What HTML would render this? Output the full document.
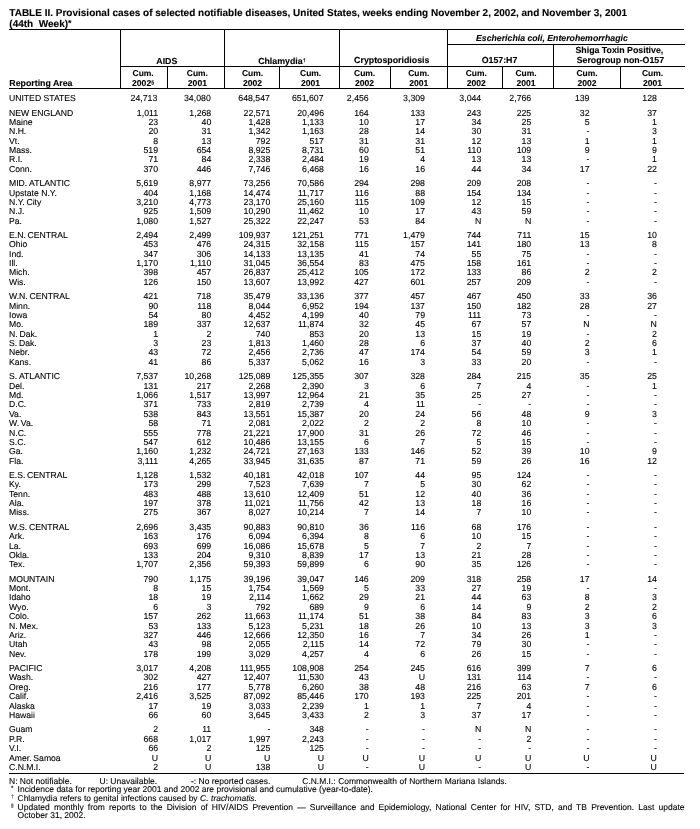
<!DOCTYPE html>
<html lang="en"><head><meta charset="utf-8"><title>TABLE II. Provisional cases of selected notifiable diseases</title>
<style>
html,body{margin:0;padding:0;background:#fff}
#p{position:relative;width:700px;height:829px;overflow:hidden;background:#fff;color:#000;font-family:"Liberation Sans",sans-serif;font-size:8.75px;-webkit-font-smoothing:antialiased;text-rendering:geometricPrecision;-webkit-text-stroke:0.1px #000}
.r{position:absolute;left:0;width:700px;height:10px;line-height:10px;white-space:nowrap}
.a{position:absolute;left:9.00px;word-spacing:0.1px;font-size:8.65px}
.c{position:absolute}
.ns{word-spacing:-0.6px}
.l{position:absolute}
.t{position:absolute;white-space:nowrap}
.b{font-weight:bold}
.i{font-style:italic}
.j{text-align:justify;text-align-last:justify;white-space:normal}
.sup{font-size:62%;position:relative;top:-0.42em;line-height:0}
.ast{font-size:88%;position:relative;top:-0.08em;line-height:0}
.fm{color:#777;font-weight:bold;-webkit-text-stroke:0.35px #777}
</style></head>
<body><div id="p">
<div class="l" style="left:9.30px;top:29.00px;width:675.20px;height:1.00px;background:#000"></div>
<div class="l" style="left:9.30px;top:87.50px;width:675.20px;height:1.00px;background:#000"></div>
<div class="l" style="left:9.30px;top:772.90px;width:675.20px;height:1.00px;background:#000"></div>
<div class="l" style="left:447.00px;top:43.75px;width:237.50px;height:1.00px;background:#000"></div>
<div class="l" style="left:120.50px;top:65.50px;width:564.00px;height:1.00px;background:#000"></div>
<div class="l" style="left:120.00px;top:29.50px;width:1.00px;height:58.50px;background:#000"></div>
<div class="l" style="left:224.00px;top:29.50px;width:1.00px;height:58.50px;background:#000"></div>
<div class="l" style="left:339.00px;top:29.50px;width:1.00px;height:58.50px;background:#000"></div>
<div class="l" style="left:446.50px;top:29.50px;width:1.00px;height:58.50px;background:#000"></div>
<div class="l" style="left:553.25px;top:44.25px;width:1.00px;height:43.75px;background:#000"></div>
<div class="l" style="left:167.00px;top:66.00px;width:1.00px;height:22.00px;background:#000"></div>
<div class="l" style="left:279.00px;top:66.00px;width:1.00px;height:22.00px;background:#000"></div>
<div class="l" style="left:390.00px;top:66.00px;width:1.00px;height:22.00px;background:#000"></div>
<div class="l" style="left:502.00px;top:66.00px;width:1.00px;height:22.00px;background:#000"></div>
<div class="l" style="left:620.00px;top:66.00px;width:1.00px;height:22.00px;background:#000"></div>
<div class="t b" style="left:9.30px;top:9.00px;font-size:10.00px;line-height:10.00px;">TABLE II. Provisional cases of selected notifiable diseases, United States, weeks ending November 2, 2002, and November 3, 2001</div>
<div class="t b" style="left:9.30px;top:20.00px;font-size:10.00px;line-height:10.00px;">(44th&nbsp; Week)<span class="ast">*</span></div>
<div class="t b" style="left:9.30px;top:78.00px;font-size:8.80px;line-height:10.00px;">Reporting Area</div>
<div class="t b i" style="left:476.40px;top:33.00px;font-size:8.80px;line-height:10.00px;;transform:scaleX(0.9920);transform-origin:0 0">Escherichia coli, Enterohemorrhagic</div>
<div class="t b" style="left:106.80px;width:120px;text-align:center;top:56.00px;font-size:8.80px;line-height:10.00px">AIDS</div>
<div class="t b" style="left:221.90px;width:120px;text-align:center;top:56.00px;font-size:8.80px;line-height:10.00px">Chlamydia<span class="sup">†</span></div>
<div class="t b" style="left:331.75px;width:120px;text-align:center;top:55.00px;font-size:8.80px;line-height:10.00px">Cryptosporidiosis</div>
<div class="t b" style="left:439.50px;width:120px;text-align:center;top:55.00px;font-size:8.80px;line-height:10.00px">O157:H7</div>
<div class="t b" style="left:559.40px;width:120px;text-align:center;top:45.00px;font-size:8.80px;line-height:10.00px">Shiga Toxin Positive,</div>
<div class="t b" style="left:560.40px;width:120px;text-align:center;top:55.00px;font-size:8.80px;line-height:10.00px">Serogroup non-O157</div>
<div class="t b" style="left:113.10px;width:60px;text-align:center;top:68.00px;font-size:8.45px;line-height:10.00px">Cum.</div>
<div class="t b" style="left:113.10px;width:60px;text-align:center;top:78.00px;font-size:8.60px;line-height:10.00px">2002<span class="sup">§</span></div>
<div class="t b" style="left:167.40px;width:60px;text-align:center;top:68.00px;font-size:8.45px;line-height:10.00px">Cum.</div>
<div class="t b" style="left:167.40px;width:60px;text-align:center;top:78.00px;font-size:8.60px;line-height:10.00px">2001</div>
<div class="t b" style="left:222.50px;width:60px;text-align:center;top:68.00px;font-size:8.45px;line-height:10.00px">Cum.</div>
<div class="t b" style="left:222.50px;width:60px;text-align:center;top:78.00px;font-size:8.60px;line-height:10.00px">2002</div>
<div class="t b" style="left:280.60px;width:60px;text-align:center;top:68.00px;font-size:8.45px;line-height:10.00px">Cum.</div>
<div class="t b" style="left:280.60px;width:60px;text-align:center;top:78.00px;font-size:8.60px;line-height:10.00px">2001</div>
<div class="t b" style="left:334.60px;width:60px;text-align:center;top:68.00px;font-size:8.45px;line-height:10.00px">Cum.</div>
<div class="t b" style="left:334.60px;width:60px;text-align:center;top:78.00px;font-size:8.60px;line-height:10.00px">2002</div>
<div class="t b" style="left:388.75px;width:60px;text-align:center;top:68.00px;font-size:8.45px;line-height:10.00px">Cum.</div>
<div class="t b" style="left:388.75px;width:60px;text-align:center;top:78.00px;font-size:8.60px;line-height:10.00px">2001</div>
<div class="t b" style="left:446.25px;width:60px;text-align:center;top:68.00px;font-size:8.45px;line-height:10.00px">Cum.</div>
<div class="t b" style="left:446.25px;width:60px;text-align:center;top:78.00px;font-size:8.60px;line-height:10.00px">2002</div>
<div class="t b" style="left:496.00px;width:60px;text-align:center;top:68.00px;font-size:8.45px;line-height:10.00px">Cum.</div>
<div class="t b" style="left:496.00px;width:60px;text-align:center;top:78.00px;font-size:8.60px;line-height:10.00px">2001</div>
<div class="t b" style="left:557.00px;width:60px;text-align:center;top:68.00px;font-size:8.45px;line-height:10.00px">Cum.</div>
<div class="t b" style="left:557.00px;width:60px;text-align:center;top:78.00px;font-size:8.60px;line-height:10.00px">2002</div>
<div class="t b" style="left:622.50px;width:60px;text-align:center;top:68.00px;font-size:8.45px;line-height:10.00px">Cum.</div>
<div class="t b" style="left:622.50px;width:60px;text-align:center;top:78.00px;font-size:8.60px;line-height:10.00px">2001</div>
<div class="t " style="left:9.00px;top:776.00px;font-size:8.50px;line-height:10.00px;">N: Not notifiable.</div>
<div class="t " style="left:99.50px;top:776.00px;font-size:8.50px;line-height:10.00px;">U: Unavailable.</div>
<div class="t " style="left:191.00px;top:776.00px;font-size:8.50px;line-height:10.00px;">-: No reported cases.</div>
<div class="t j" style="left:302.30px;top:776.00px;font-size:8.45px;line-height:10.00px;width:204.6px">C.N.M.I.: Commonwealth of Northern Mariana Islands.</div>
<div class="t " style="left:11.00px;top:784.73px;font-size:6.20px;line-height:7.44px;">*</div>
<div class="t j" style="left:17.60px;top:784.00px;font-size:8.50px;line-height:10.00px;width:355.4px">Incidence data for reporting year 2001 and 2002 are provisional and cumulative (year-to-date).</div>
<div class="t fm" style="left:11.30px;top:794.25px;font-size:4.60px;line-height:5.52px;">†</div>
<div class="t j" style="left:17.60px;top:793.00px;font-size:8.42px;line-height:10.00px;width:239.3px">Chlamydia refers to genital infections caused by <i>C. trachomatis.</i></div>
<div class="t fm" style="left:11.10px;top:803.25px;font-size:4.60px;line-height:5.52px;">§</div>
<div class="t j" style="left:17.60px;top:802.00px;font-size:8.50px;line-height:10.00px;width:666.90px">Updated monthly from reports to the Division of HIV/AIDS Prevention — Surveillance and Epidemiology, National Center for HIV, STD, and TB Prevention. Last update</div>
<div class="t " style="left:17.60px;top:810.00px;font-size:8.50px;line-height:10.00px;">October 31, 2002.</div>
<div class="r" style="top:93.00px"><span class="a">UNITED STATES</span><span class="c" style="right:542.70px">24,713</span><span class="c" style="right:489.25px">34,080</span><span class="c" style="right:430.10px">648,547</span><span class="c" style="right:376.40px">651,607</span><span class="c" style="right:331.25px">2,456</span><span class="c" style="right:275.00px">3,309</span><span class="c" style="right:218.75px">3,044</span><span class="c" style="right:168.75px">2,766</span><span class="c" style="right:110.50px">139</span><span class="c" style="right:43.10px">128</span></div>
<div class="r" style="top:108.00px"><span class="a">NEW ENGLAND</span><span class="c" style="right:541.90px">1,011</span><span class="c" style="right:488.75px">1,268</span><span class="c" style="right:429.70px">22,571</span><span class="c" style="right:376.00px">20,496</span><span class="c" style="right:331.25px">164</span><span class="c" style="right:275.00px">133</span><span class="c" style="right:218.75px">243</span><span class="c" style="right:168.75px">225</span><span class="c" style="right:110.50px">32</span><span class="c" style="right:43.10px">37</span></div>
<div class="r" style="top:117.00px"><span class="a">Maine</span><span class="c" style="right:541.90px">23</span><span class="c" style="right:488.75px">40</span><span class="c" style="right:429.70px">1,428</span><span class="c" style="right:376.00px">1,133</span><span class="c" style="right:331.25px">10</span><span class="c" style="right:275.00px">17</span><span class="c" style="right:218.75px">34</span><span class="c" style="right:168.75px">25</span><span class="c" style="right:110.50px">5</span><span class="c" style="right:43.10px">1</span></div>
<div class="r" style="top:126.00px"><span class="a">N.H.</span><span class="c" style="right:541.90px">20</span><span class="c" style="right:488.75px">31</span><span class="c" style="right:429.70px">1,342</span><span class="c" style="right:376.00px">1,163</span><span class="c" style="right:331.25px">28</span><span class="c" style="right:275.00px">14</span><span class="c" style="right:218.75px">30</span><span class="c" style="right:168.75px">31</span><span class="c" style="right:110.50px">-</span><span class="c" style="right:43.10px">3</span></div>
<div class="r" style="top:136.00px"><span class="a">Vt.</span><span class="c" style="right:541.90px">8</span><span class="c" style="right:488.75px">13</span><span class="c" style="right:429.70px">792</span><span class="c" style="right:376.00px">517</span><span class="c" style="right:331.25px">31</span><span class="c" style="right:275.00px">31</span><span class="c" style="right:218.75px">12</span><span class="c" style="right:168.75px">13</span><span class="c" style="right:110.50px">1</span><span class="c" style="right:43.10px">1</span></div>
<div class="r" style="top:145.00px"><span class="a">Mass.</span><span class="c" style="right:541.90px">519</span><span class="c" style="right:488.75px">654</span><span class="c" style="right:429.70px">8,925</span><span class="c" style="right:376.00px">8,731</span><span class="c" style="right:331.25px">60</span><span class="c" style="right:275.00px">51</span><span class="c" style="right:218.75px">110</span><span class="c" style="right:168.75px">109</span><span class="c" style="right:110.50px">9</span><span class="c" style="right:43.10px">9</span></div>
<div class="r" style="top:154.00px"><span class="a">R.I.</span><span class="c" style="right:541.90px">71</span><span class="c" style="right:488.75px">84</span><span class="c" style="right:429.70px">2,338</span><span class="c" style="right:376.00px">2,484</span><span class="c" style="right:331.25px">19</span><span class="c" style="right:275.00px">4</span><span class="c" style="right:218.75px">13</span><span class="c" style="right:168.75px">13</span><span class="c" style="right:110.50px">-</span><span class="c" style="right:43.10px">1</span></div>
<div class="r" style="top:164.00px"><span class="a">Conn.</span><span class="c" style="right:541.90px">370</span><span class="c" style="right:488.75px">446</span><span class="c" style="right:429.70px">7,746</span><span class="c" style="right:376.00px">6,468</span><span class="c" style="right:331.25px">16</span><span class="c" style="right:275.00px">16</span><span class="c" style="right:218.75px">44</span><span class="c" style="right:168.75px">34</span><span class="c" style="right:110.50px">17</span><span class="c" style="right:43.10px">22</span></div>
<div class="r" style="top:178.00px"><span class="a">MID.<span class="ns"> </span>ATLANTIC</span><span class="c" style="right:541.90px">5,619</span><span class="c" style="right:488.75px">8,977</span><span class="c" style="right:429.70px">73,256</span><span class="c" style="right:376.00px">70,586</span><span class="c" style="right:331.25px">294</span><span class="c" style="right:275.00px">298</span><span class="c" style="right:218.75px">209</span><span class="c" style="right:168.75px">208</span><span class="c" style="right:110.50px">-</span><span class="c" style="right:43.10px">-</span></div>
<div class="r" style="top:188.00px"><span class="a">Upstate N.Y.</span><span class="c" style="right:541.90px">404</span><span class="c" style="right:488.75px">1,168</span><span class="c" style="right:429.70px">14,474</span><span class="c" style="right:376.00px">11,717</span><span class="c" style="right:331.25px">116</span><span class="c" style="right:275.00px">88</span><span class="c" style="right:218.75px">154</span><span class="c" style="right:168.75px">134</span><span class="c" style="right:110.50px">-</span><span class="c" style="right:43.10px">-</span></div>
<div class="r" style="top:197.00px"><span class="a">N.Y.<span class="ns"> </span>City</span><span class="c" style="right:541.90px">3,210</span><span class="c" style="right:488.75px">4,773</span><span class="c" style="right:429.70px">23,170</span><span class="c" style="right:376.00px">25,160</span><span class="c" style="right:331.25px">115</span><span class="c" style="right:275.00px">109</span><span class="c" style="right:218.75px">12</span><span class="c" style="right:168.75px">15</span><span class="c" style="right:110.50px">-</span><span class="c" style="right:43.10px">-</span></div>
<div class="r" style="top:206.00px"><span class="a">N.J.</span><span class="c" style="right:541.90px">925</span><span class="c" style="right:488.75px">1,509</span><span class="c" style="right:429.70px">10,290</span><span class="c" style="right:376.00px">11,462</span><span class="c" style="right:331.25px">10</span><span class="c" style="right:275.00px">17</span><span class="c" style="right:218.75px">43</span><span class="c" style="right:168.75px">59</span><span class="c" style="right:110.50px">-</span><span class="c" style="right:43.10px">-</span></div>
<div class="r" style="top:216.00px"><span class="a">Pa.</span><span class="c" style="right:541.90px">1,080</span><span class="c" style="right:488.75px">1,527</span><span class="c" style="right:429.70px">25,322</span><span class="c" style="right:376.00px">22,247</span><span class="c" style="right:331.25px">53</span><span class="c" style="right:275.00px">84</span><span class="c" style="right:218.75px">N</span><span class="c" style="right:168.75px">N</span><span class="c" style="right:110.50px">-</span><span class="c" style="right:43.10px">-</span></div>
<div class="r" style="top:230.00px"><span class="a">E.N.<span class="ns"> </span>CENTRAL</span><span class="c" style="right:541.90px">2,494</span><span class="c" style="right:488.75px">2,499</span><span class="c" style="right:429.70px">109,937</span><span class="c" style="right:376.00px">121,251</span><span class="c" style="right:331.25px">771</span><span class="c" style="right:275.00px">1,479</span><span class="c" style="right:218.75px">744</span><span class="c" style="right:168.75px">711</span><span class="c" style="right:110.50px">15</span><span class="c" style="right:43.10px">10</span></div>
<div class="r" style="top:239.00px"><span class="a">Ohio</span><span class="c" style="right:541.90px">453</span><span class="c" style="right:488.75px">476</span><span class="c" style="right:429.70px">24,315</span><span class="c" style="right:376.00px">32,158</span><span class="c" style="right:331.25px">115</span><span class="c" style="right:275.00px">157</span><span class="c" style="right:218.75px">141</span><span class="c" style="right:168.75px">180</span><span class="c" style="right:110.50px">13</span><span class="c" style="right:43.10px">8</span></div>
<div class="r" style="top:249.00px"><span class="a">Ind.</span><span class="c" style="right:541.90px">347</span><span class="c" style="right:488.75px">306</span><span class="c" style="right:429.70px">14,133</span><span class="c" style="right:376.00px">13,135</span><span class="c" style="right:331.25px">41</span><span class="c" style="right:275.00px">74</span><span class="c" style="right:218.75px">55</span><span class="c" style="right:168.75px">75</span><span class="c" style="right:110.50px">-</span><span class="c" style="right:43.10px">-</span></div>
<div class="r" style="top:258.00px"><span class="a">Ill.</span><span class="c" style="right:541.90px">1,170</span><span class="c" style="right:488.75px">1,110</span><span class="c" style="right:429.70px">31,045</span><span class="c" style="right:376.00px">36,554</span><span class="c" style="right:331.25px">83</span><span class="c" style="right:275.00px">475</span><span class="c" style="right:218.75px">158</span><span class="c" style="right:168.75px">161</span><span class="c" style="right:110.50px">-</span><span class="c" style="right:43.10px">-</span></div>
<div class="r" style="top:267.00px"><span class="a">Mich.</span><span class="c" style="right:541.90px">398</span><span class="c" style="right:488.75px">457</span><span class="c" style="right:429.70px">26,837</span><span class="c" style="right:376.00px">25,412</span><span class="c" style="right:331.25px">105</span><span class="c" style="right:275.00px">172</span><span class="c" style="right:218.75px">133</span><span class="c" style="right:168.75px">86</span><span class="c" style="right:110.50px">2</span><span class="c" style="right:43.10px">2</span></div>
<div class="r" style="top:277.00px"><span class="a">Wis.</span><span class="c" style="right:541.90px">126</span><span class="c" style="right:488.75px">150</span><span class="c" style="right:429.70px">13,607</span><span class="c" style="right:376.00px">13,992</span><span class="c" style="right:331.25px">427</span><span class="c" style="right:275.00px">601</span><span class="c" style="right:218.75px">257</span><span class="c" style="right:168.75px">209</span><span class="c" style="right:110.50px">-</span><span class="c" style="right:43.10px">-</span></div>
<div class="r" style="top:291.00px"><span class="a">W.N.<span class="ns"> </span>CENTRAL</span><span class="c" style="right:541.90px">421</span><span class="c" style="right:488.75px">718</span><span class="c" style="right:429.70px">35,479</span><span class="c" style="right:376.00px">33,136</span><span class="c" style="right:331.25px">377</span><span class="c" style="right:275.00px">457</span><span class="c" style="right:218.75px">467</span><span class="c" style="right:168.75px">450</span><span class="c" style="right:110.50px">33</span><span class="c" style="right:43.10px">36</span></div>
<div class="r" style="top:301.00px"><span class="a">Minn.</span><span class="c" style="right:541.90px">90</span><span class="c" style="right:488.75px">118</span><span class="c" style="right:429.70px">8,044</span><span class="c" style="right:376.00px">6,952</span><span class="c" style="right:331.25px">194</span><span class="c" style="right:275.00px">137</span><span class="c" style="right:218.75px">150</span><span class="c" style="right:168.75px">182</span><span class="c" style="right:110.50px">28</span><span class="c" style="right:43.10px">27</span></div>
<div class="r" style="top:310.00px"><span class="a">Iowa</span><span class="c" style="right:541.90px">54</span><span class="c" style="right:488.75px">80</span><span class="c" style="right:429.70px">4,452</span><span class="c" style="right:376.00px">4,199</span><span class="c" style="right:331.25px">40</span><span class="c" style="right:275.00px">79</span><span class="c" style="right:218.75px">111</span><span class="c" style="right:168.75px">73</span><span class="c" style="right:110.50px">-</span><span class="c" style="right:43.10px">-</span></div>
<div class="r" style="top:319.00px"><span class="a">Mo.</span><span class="c" style="right:541.90px">189</span><span class="c" style="right:488.75px">337</span><span class="c" style="right:429.70px">12,637</span><span class="c" style="right:376.00px">11,874</span><span class="c" style="right:331.25px">32</span><span class="c" style="right:275.00px">45</span><span class="c" style="right:218.75px">67</span><span class="c" style="right:168.75px">57</span><span class="c" style="right:110.50px">N</span><span class="c" style="right:43.10px">N</span></div>
<div class="r" style="top:329.00px"><span class="a">N.<span class="ns"> </span>Dak.</span><span class="c" style="right:541.90px">1</span><span class="c" style="right:488.75px">2</span><span class="c" style="right:429.70px">740</span><span class="c" style="right:376.00px">853</span><span class="c" style="right:331.25px">20</span><span class="c" style="right:275.00px">13</span><span class="c" style="right:218.75px">15</span><span class="c" style="right:168.75px">19</span><span class="c" style="right:110.50px">-</span><span class="c" style="right:43.10px">2</span></div>
<div class="r" style="top:338.00px"><span class="a">S.<span class="ns"> </span>Dak.</span><span class="c" style="right:541.90px">3</span><span class="c" style="right:488.75px">23</span><span class="c" style="right:429.70px">1,813</span><span class="c" style="right:376.00px">1,460</span><span class="c" style="right:331.25px">28</span><span class="c" style="right:275.00px">6</span><span class="c" style="right:218.75px">37</span><span class="c" style="right:168.75px">40</span><span class="c" style="right:110.50px">2</span><span class="c" style="right:43.10px">6</span></div>
<div class="r" style="top:347.00px"><span class="a">Nebr.</span><span class="c" style="right:541.90px">43</span><span class="c" style="right:488.75px">72</span><span class="c" style="right:429.70px">2,456</span><span class="c" style="right:376.00px">2,736</span><span class="c" style="right:331.25px">47</span><span class="c" style="right:275.00px">174</span><span class="c" style="right:218.75px">54</span><span class="c" style="right:168.75px">59</span><span class="c" style="right:110.50px">3</span><span class="c" style="right:43.10px">1</span></div>
<div class="r" style="top:357.00px"><span class="a">Kans.</span><span class="c" style="right:541.90px">41</span><span class="c" style="right:488.75px">86</span><span class="c" style="right:429.70px">5,337</span><span class="c" style="right:376.00px">5,062</span><span class="c" style="right:331.25px">16</span><span class="c" style="right:275.00px">3</span><span class="c" style="right:218.75px">33</span><span class="c" style="right:168.75px">20</span><span class="c" style="right:110.50px">-</span><span class="c" style="right:43.10px">-</span></div>
<div class="r" style="top:371.00px"><span class="a">S.<span class="ns"> </span>ATLANTIC</span><span class="c" style="right:541.90px">7,537</span><span class="c" style="right:488.75px">10,268</span><span class="c" style="right:429.70px">125,089</span><span class="c" style="right:376.00px">125,355</span><span class="c" style="right:331.25px">307</span><span class="c" style="right:275.00px">328</span><span class="c" style="right:218.75px">284</span><span class="c" style="right:168.75px">215</span><span class="c" style="right:110.50px">35</span><span class="c" style="right:43.10px">25</span></div>
<div class="r" style="top:381.00px"><span class="a">Del.</span><span class="c" style="right:541.90px">131</span><span class="c" style="right:488.75px">217</span><span class="c" style="right:429.70px">2,268</span><span class="c" style="right:376.00px">2,390</span><span class="c" style="right:331.25px">3</span><span class="c" style="right:275.00px">6</span><span class="c" style="right:218.75px">7</span><span class="c" style="right:168.75px">4</span><span class="c" style="right:110.50px">-</span><span class="c" style="right:43.10px">1</span></div>
<div class="r" style="top:390.00px"><span class="a">Md.</span><span class="c" style="right:541.90px">1,066</span><span class="c" style="right:488.75px">1,517</span><span class="c" style="right:429.70px">13,997</span><span class="c" style="right:376.00px">12,964</span><span class="c" style="right:331.25px">21</span><span class="c" style="right:275.00px">35</span><span class="c" style="right:218.75px">25</span><span class="c" style="right:168.75px">27</span><span class="c" style="right:110.50px">-</span><span class="c" style="right:43.10px">-</span></div>
<div class="r" style="top:399.00px"><span class="a">D.C.</span><span class="c" style="right:541.90px">371</span><span class="c" style="right:488.75px">733</span><span class="c" style="right:429.70px">2,819</span><span class="c" style="right:376.00px">2,739</span><span class="c" style="right:331.25px">4</span><span class="c" style="right:275.00px">11</span><span class="c" style="right:218.75px">-</span><span class="c" style="right:168.75px">-</span><span class="c" style="right:110.50px">-</span><span class="c" style="right:43.10px">-</span></div>
<div class="r" style="top:409.00px"><span class="a">Va.</span><span class="c" style="right:541.90px">538</span><span class="c" style="right:488.75px">843</span><span class="c" style="right:429.70px">13,551</span><span class="c" style="right:376.00px">15,387</span><span class="c" style="right:331.25px">20</span><span class="c" style="right:275.00px">24</span><span class="c" style="right:218.75px">56</span><span class="c" style="right:168.75px">48</span><span class="c" style="right:110.50px">9</span><span class="c" style="right:43.10px">3</span></div>
<div class="r" style="top:418.00px"><span class="a">W.<span class="ns"> </span>Va.</span><span class="c" style="right:541.90px">58</span><span class="c" style="right:488.75px">71</span><span class="c" style="right:429.70px">2,081</span><span class="c" style="right:376.00px">2,022</span><span class="c" style="right:331.25px">2</span><span class="c" style="right:275.00px">2</span><span class="c" style="right:218.75px">8</span><span class="c" style="right:168.75px">10</span><span class="c" style="right:110.50px">-</span><span class="c" style="right:43.10px">-</span></div>
<div class="r" style="top:428.00px"><span class="a">N.C.</span><span class="c" style="right:541.90px">555</span><span class="c" style="right:488.75px">778</span><span class="c" style="right:429.70px">21,221</span><span class="c" style="right:376.00px">17,900</span><span class="c" style="right:331.25px">31</span><span class="c" style="right:275.00px">26</span><span class="c" style="right:218.75px">72</span><span class="c" style="right:168.75px">46</span><span class="c" style="right:110.50px">-</span><span class="c" style="right:43.10px">-</span></div>
<div class="r" style="top:437.00px"><span class="a">S.C.</span><span class="c" style="right:541.90px">547</span><span class="c" style="right:488.75px">612</span><span class="c" style="right:429.70px">10,486</span><span class="c" style="right:376.00px">13,155</span><span class="c" style="right:331.25px">6</span><span class="c" style="right:275.00px">7</span><span class="c" style="right:218.75px">5</span><span class="c" style="right:168.75px">15</span><span class="c" style="right:110.50px">-</span><span class="c" style="right:43.10px">-</span></div>
<div class="r" style="top:446.00px"><span class="a">Ga.</span><span class="c" style="right:541.90px">1,160</span><span class="c" style="right:488.75px">1,232</span><span class="c" style="right:429.70px">24,721</span><span class="c" style="right:376.00px">27,163</span><span class="c" style="right:331.25px">133</span><span class="c" style="right:275.00px">146</span><span class="c" style="right:218.75px">52</span><span class="c" style="right:168.75px">39</span><span class="c" style="right:110.50px">10</span><span class="c" style="right:43.10px">9</span></div>
<div class="r" style="top:456.00px"><span class="a">Fla.</span><span class="c" style="right:541.90px">3,111</span><span class="c" style="right:488.75px">4,265</span><span class="c" style="right:429.70px">33,945</span><span class="c" style="right:376.00px">31,635</span><span class="c" style="right:331.25px">87</span><span class="c" style="right:275.00px">71</span><span class="c" style="right:218.75px">59</span><span class="c" style="right:168.75px">26</span><span class="c" style="right:110.50px">16</span><span class="c" style="right:43.10px">12</span></div>
<div class="r" style="top:470.00px"><span class="a">E.S.<span class="ns"> </span>CENTRAL</span><span class="c" style="right:541.90px">1,128</span><span class="c" style="right:488.75px">1,532</span><span class="c" style="right:429.70px">40,181</span><span class="c" style="right:376.00px">42,018</span><span class="c" style="right:331.25px">107</span><span class="c" style="right:275.00px">44</span><span class="c" style="right:218.75px">95</span><span class="c" style="right:168.75px">124</span><span class="c" style="right:110.50px">-</span><span class="c" style="right:43.10px">-</span></div>
<div class="r" style="top:479.00px"><span class="a">Ky.</span><span class="c" style="right:541.90px">173</span><span class="c" style="right:488.75px">299</span><span class="c" style="right:429.70px">7,523</span><span class="c" style="right:376.00px">7,639</span><span class="c" style="right:331.25px">7</span><span class="c" style="right:275.00px">5</span><span class="c" style="right:218.75px">30</span><span class="c" style="right:168.75px">62</span><span class="c" style="right:110.50px">-</span><span class="c" style="right:43.10px">-</span></div>
<div class="r" style="top:489.00px"><span class="a">Tenn.</span><span class="c" style="right:541.90px">483</span><span class="c" style="right:488.75px">488</span><span class="c" style="right:429.70px">13,610</span><span class="c" style="right:376.00px">12,409</span><span class="c" style="right:331.25px">51</span><span class="c" style="right:275.00px">12</span><span class="c" style="right:218.75px">40</span><span class="c" style="right:168.75px">36</span><span class="c" style="right:110.50px">-</span><span class="c" style="right:43.10px">-</span></div>
<div class="r" style="top:498.00px"><span class="a">Ala.</span><span class="c" style="right:541.90px">197</span><span class="c" style="right:488.75px">378</span><span class="c" style="right:429.70px">11,021</span><span class="c" style="right:376.00px">11,756</span><span class="c" style="right:331.25px">42</span><span class="c" style="right:275.00px">13</span><span class="c" style="right:218.75px">18</span><span class="c" style="right:168.75px">16</span><span class="c" style="right:110.50px">-</span><span class="c" style="right:43.10px">-</span></div>
<div class="r" style="top:507.00px"><span class="a">Miss.</span><span class="c" style="right:541.90px">275</span><span class="c" style="right:488.75px">367</span><span class="c" style="right:429.70px">8,027</span><span class="c" style="right:376.00px">10,214</span><span class="c" style="right:331.25px">7</span><span class="c" style="right:275.00px">14</span><span class="c" style="right:218.75px">7</span><span class="c" style="right:168.75px">10</span><span class="c" style="right:110.50px">-</span><span class="c" style="right:43.10px">-</span></div>
<div class="r" style="top:522.00px"><span class="a">W.S.<span class="ns"> </span>CENTRAL</span><span class="c" style="right:541.90px">2,696</span><span class="c" style="right:488.75px">3,435</span><span class="c" style="right:429.70px">90,883</span><span class="c" style="right:376.00px">90,810</span><span class="c" style="right:331.25px">36</span><span class="c" style="right:275.00px">116</span><span class="c" style="right:218.75px">68</span><span class="c" style="right:168.75px">176</span><span class="c" style="right:110.50px">-</span><span class="c" style="right:43.10px">-</span></div>
<div class="r" style="top:531.00px"><span class="a">Ark.</span><span class="c" style="right:541.90px">163</span><span class="c" style="right:488.75px">176</span><span class="c" style="right:429.70px">6,094</span><span class="c" style="right:376.00px">6,394</span><span class="c" style="right:331.25px">8</span><span class="c" style="right:275.00px">6</span><span class="c" style="right:218.75px">10</span><span class="c" style="right:168.75px">15</span><span class="c" style="right:110.50px">-</span><span class="c" style="right:43.10px">-</span></div>
<div class="r" style="top:541.00px"><span class="a">La.</span><span class="c" style="right:541.90px">693</span><span class="c" style="right:488.75px">699</span><span class="c" style="right:429.70px">16,086</span><span class="c" style="right:376.00px">15,678</span><span class="c" style="right:331.25px">5</span><span class="c" style="right:275.00px">7</span><span class="c" style="right:218.75px">2</span><span class="c" style="right:168.75px">7</span><span class="c" style="right:110.50px">-</span><span class="c" style="right:43.10px">-</span></div>
<div class="r" style="top:550.00px"><span class="a">Okla.</span><span class="c" style="right:541.90px">133</span><span class="c" style="right:488.75px">204</span><span class="c" style="right:429.70px">9,310</span><span class="c" style="right:376.00px">8,839</span><span class="c" style="right:331.25px">17</span><span class="c" style="right:275.00px">13</span><span class="c" style="right:218.75px">21</span><span class="c" style="right:168.75px">28</span><span class="c" style="right:110.50px">-</span><span class="c" style="right:43.10px">-</span></div>
<div class="r" style="top:559.00px"><span class="a">Tex.</span><span class="c" style="right:541.90px">1,707</span><span class="c" style="right:488.75px">2,356</span><span class="c" style="right:429.70px">59,393</span><span class="c" style="right:376.00px">59,899</span><span class="c" style="right:331.25px">6</span><span class="c" style="right:275.00px">90</span><span class="c" style="right:218.75px">35</span><span class="c" style="right:168.75px">126</span><span class="c" style="right:110.50px">-</span><span class="c" style="right:43.10px">-</span></div>
<div class="r" style="top:574.00px"><span class="a">MOUNTAIN</span><span class="c" style="right:541.90px">790</span><span class="c" style="right:488.75px">1,175</span><span class="c" style="right:429.70px">39,196</span><span class="c" style="right:376.00px">39,047</span><span class="c" style="right:331.25px">146</span><span class="c" style="right:275.00px">209</span><span class="c" style="right:218.75px">318</span><span class="c" style="right:168.75px">258</span><span class="c" style="right:110.50px">17</span><span class="c" style="right:43.10px">14</span></div>
<div class="r" style="top:583.00px"><span class="a">Mont.</span><span class="c" style="right:541.90px">8</span><span class="c" style="right:488.75px">15</span><span class="c" style="right:429.70px">1,754</span><span class="c" style="right:376.00px">1,569</span><span class="c" style="right:331.25px">5</span><span class="c" style="right:275.00px">33</span><span class="c" style="right:218.75px">27</span><span class="c" style="right:168.75px">19</span><span class="c" style="right:110.50px">-</span><span class="c" style="right:43.10px">-</span></div>
<div class="r" style="top:592.00px"><span class="a">Idaho</span><span class="c" style="right:541.90px">18</span><span class="c" style="right:488.75px">19</span><span class="c" style="right:429.70px">2,114</span><span class="c" style="right:376.00px">1,662</span><span class="c" style="right:331.25px">29</span><span class="c" style="right:275.00px">21</span><span class="c" style="right:218.75px">44</span><span class="c" style="right:168.75px">63</span><span class="c" style="right:110.50px">8</span><span class="c" style="right:43.10px">3</span></div>
<div class="r" style="top:602.00px"><span class="a">Wyo.</span><span class="c" style="right:541.90px">6</span><span class="c" style="right:488.75px">3</span><span class="c" style="right:429.70px">792</span><span class="c" style="right:376.00px">689</span><span class="c" style="right:331.25px">9</span><span class="c" style="right:275.00px">6</span><span class="c" style="right:218.75px">14</span><span class="c" style="right:168.75px">9</span><span class="c" style="right:110.50px">2</span><span class="c" style="right:43.10px">2</span></div>
<div class="r" style="top:611.00px"><span class="a">Colo.</span><span class="c" style="right:541.90px">157</span><span class="c" style="right:488.75px">262</span><span class="c" style="right:429.70px">11,663</span><span class="c" style="right:376.00px">11,174</span><span class="c" style="right:331.25px">51</span><span class="c" style="right:275.00px">38</span><span class="c" style="right:218.75px">84</span><span class="c" style="right:168.75px">83</span><span class="c" style="right:110.50px">3</span><span class="c" style="right:43.10px">6</span></div>
<div class="r" style="top:621.00px"><span class="a">N.<span class="ns"> </span>Mex.</span><span class="c" style="right:541.90px">53</span><span class="c" style="right:488.75px">133</span><span class="c" style="right:429.70px">5,123</span><span class="c" style="right:376.00px">5,231</span><span class="c" style="right:331.25px">18</span><span class="c" style="right:275.00px">26</span><span class="c" style="right:218.75px">10</span><span class="c" style="right:168.75px">13</span><span class="c" style="right:110.50px">3</span><span class="c" style="right:43.10px">3</span></div>
<div class="r" style="top:630.00px"><span class="a">Ariz.</span><span class="c" style="right:541.90px">327</span><span class="c" style="right:488.75px">446</span><span class="c" style="right:429.70px">12,666</span><span class="c" style="right:376.00px">12,350</span><span class="c" style="right:331.25px">16</span><span class="c" style="right:275.00px">7</span><span class="c" style="right:218.75px">34</span><span class="c" style="right:168.75px">26</span><span class="c" style="right:110.50px">1</span><span class="c" style="right:43.10px">-</span></div>
<div class="r" style="top:639.00px"><span class="a">Utah</span><span class="c" style="right:541.90px">43</span><span class="c" style="right:488.75px">98</span><span class="c" style="right:429.70px">2,055</span><span class="c" style="right:376.00px">2,115</span><span class="c" style="right:331.25px">14</span><span class="c" style="right:275.00px">72</span><span class="c" style="right:218.75px">79</span><span class="c" style="right:168.75px">30</span><span class="c" style="right:110.50px">-</span><span class="c" style="right:43.10px">-</span></div>
<div class="r" style="top:649.00px"><span class="a">Nev.</span><span class="c" style="right:541.90px">178</span><span class="c" style="right:488.75px">199</span><span class="c" style="right:429.70px">3,029</span><span class="c" style="right:376.00px">4,257</span><span class="c" style="right:331.25px">4</span><span class="c" style="right:275.00px">6</span><span class="c" style="right:218.75px">26</span><span class="c" style="right:168.75px">15</span><span class="c" style="right:110.50px">-</span><span class="c" style="right:43.10px">-</span></div>
<div class="r" style="top:663.00px"><span class="a">PACIFIC</span><span class="c" style="right:541.90px">3,017</span><span class="c" style="right:488.75px">4,208</span><span class="c" style="right:429.70px">111,955</span><span class="c" style="right:376.00px">108,908</span><span class="c" style="right:331.25px">254</span><span class="c" style="right:275.00px">245</span><span class="c" style="right:218.75px">616</span><span class="c" style="right:168.75px">399</span><span class="c" style="right:110.50px">7</span><span class="c" style="right:43.10px">6</span></div>
<div class="r" style="top:672.00px"><span class="a">Wash.</span><span class="c" style="right:541.90px">302</span><span class="c" style="right:488.75px">427</span><span class="c" style="right:429.70px">12,407</span><span class="c" style="right:376.00px">11,530</span><span class="c" style="right:331.25px">43</span><span class="c" style="right:275.00px">U</span><span class="c" style="right:218.75px">131</span><span class="c" style="right:168.75px">114</span><span class="c" style="right:110.50px">-</span><span class="c" style="right:43.10px">-</span></div>
<div class="r" style="top:682.00px"><span class="a">Oreg.</span><span class="c" style="right:541.90px">216</span><span class="c" style="right:488.75px">177</span><span class="c" style="right:429.70px">5,778</span><span class="c" style="right:376.00px">6,260</span><span class="c" style="right:331.25px">38</span><span class="c" style="right:275.00px">48</span><span class="c" style="right:218.75px">216</span><span class="c" style="right:168.75px">63</span><span class="c" style="right:110.50px">7</span><span class="c" style="right:43.10px">6</span></div>
<div class="r" style="top:691.00px"><span class="a">Calif.</span><span class="c" style="right:541.90px">2,416</span><span class="c" style="right:488.75px">3,525</span><span class="c" style="right:429.70px">87,092</span><span class="c" style="right:376.00px">85,446</span><span class="c" style="right:331.25px">170</span><span class="c" style="right:275.00px">193</span><span class="c" style="right:218.75px">225</span><span class="c" style="right:168.75px">201</span><span class="c" style="right:110.50px">-</span><span class="c" style="right:43.10px">-</span></div>
<div class="r" style="top:701.00px"><span class="a">Alaska</span><span class="c" style="right:541.90px">17</span><span class="c" style="right:488.75px">19</span><span class="c" style="right:429.70px">3,033</span><span class="c" style="right:376.00px">2,239</span><span class="c" style="right:331.25px">1</span><span class="c" style="right:275.00px">1</span><span class="c" style="right:218.75px">7</span><span class="c" style="right:168.75px">4</span><span class="c" style="right:110.50px">-</span><span class="c" style="right:43.10px">-</span></div>
<div class="r" style="top:710.00px"><span class="a">Hawaii</span><span class="c" style="right:541.90px">66</span><span class="c" style="right:488.75px">60</span><span class="c" style="right:429.70px">3,645</span><span class="c" style="right:376.00px">3,433</span><span class="c" style="right:331.25px">2</span><span class="c" style="right:275.00px">3</span><span class="c" style="right:218.75px">37</span><span class="c" style="right:168.75px">17</span><span class="c" style="right:110.50px">-</span><span class="c" style="right:43.10px">-</span></div>
<div class="r" style="top:724.00px"><span class="a">Guam</span><span class="c" style="right:541.90px">2</span><span class="c" style="right:488.75px">11</span><span class="c" style="right:429.70px">-</span><span class="c" style="right:376.00px">348</span><span class="c" style="right:331.25px">-</span><span class="c" style="right:275.00px">-</span><span class="c" style="right:218.75px">N</span><span class="c" style="right:168.75px">N</span><span class="c" style="right:110.50px">-</span><span class="c" style="right:43.10px">-</span></div>
<div class="r" style="top:734.00px"><span class="a">P.R.</span><span class="c" style="right:541.90px">668</span><span class="c" style="right:488.75px">1,017</span><span class="c" style="right:429.70px">1,997</span><span class="c" style="right:376.00px">2,243</span><span class="c" style="right:331.25px">-</span><span class="c" style="right:275.00px">-</span><span class="c" style="right:218.75px">-</span><span class="c" style="right:168.75px">2</span><span class="c" style="right:110.50px">-</span><span class="c" style="right:43.10px">-</span></div>
<div class="r" style="top:743.00px"><span class="a">V.I.</span><span class="c" style="right:541.90px">66</span><span class="c" style="right:488.75px">2</span><span class="c" style="right:429.70px">125</span><span class="c" style="right:376.00px">125</span><span class="c" style="right:331.25px">-</span><span class="c" style="right:275.00px">-</span><span class="c" style="right:218.75px">-</span><span class="c" style="right:168.75px">-</span><span class="c" style="right:110.50px">-</span><span class="c" style="right:43.10px">-</span></div>
<div class="r" style="top:753.00px"><span class="a">Amer.<span class="ns"> </span>Samoa</span><span class="c" style="right:541.90px">U</span><span class="c" style="right:488.75px">U</span><span class="c" style="right:429.70px">U</span><span class="c" style="right:376.00px">U</span><span class="c" style="right:331.25px">U</span><span class="c" style="right:275.00px">U</span><span class="c" style="right:218.75px">U</span><span class="c" style="right:168.75px">U</span><span class="c" style="right:110.50px">U</span><span class="c" style="right:43.10px">U</span></div>
<div class="r" style="top:762.00px"><span class="a">C.N.M.I.</span><span class="c" style="right:541.90px">2</span><span class="c" style="right:488.75px">U</span><span class="c" style="right:429.70px">138</span><span class="c" style="right:376.00px">U</span><span class="c" style="right:331.25px">-</span><span class="c" style="right:275.00px">U</span><span class="c" style="right:218.75px">-</span><span class="c" style="right:168.75px">U</span><span class="c" style="right:110.50px">-</span><span class="c" style="right:43.10px">U</span></div>
</div></body></html>
